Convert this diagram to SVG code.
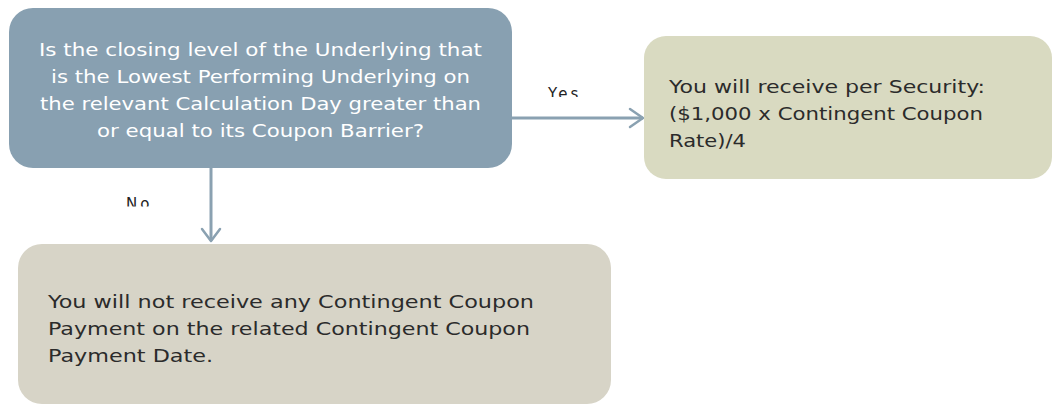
<svg xmlns="http://www.w3.org/2000/svg" width="1062" height="404" viewBox="0 0 1062 404">
<style>
  .q { fill: #88a0b1; }
  .yes { fill: #d9dac1; }
  .no { fill: #d7d4c7; }
  .t { font-family: "DejaVu Sans", Verdana, sans-serif; font-size: 16.8px; }
  .tw { fill: #ffffff; text-anchor: middle; }
  .td { fill: #2b2b2b; }
  .lbl { font-family: "DejaVu Sans", Verdana, sans-serif; font-size: 15px; fill: #222; letter-spacing: 3px; }
  .conn { stroke: #8aa1b1; stroke-width: 3; fill: none; }
  .head { stroke: #8aa1b1; stroke-width: 2.5; fill: none; stroke-linecap: round; stroke-linejoin: round; }
</style>
<defs>
  <clipPath id="clipYes"><rect x="540" y="80" width="60" height="17"/></clipPath>
  <clipPath id="clipNo"><rect x="115" y="190" width="60" height="16.5"/></clipPath>
</defs>
<rect width="1062" height="404" fill="#ffffff"/>
<g id="connectors">
  <line class="conn" x1="512" y1="118" x2="643" y2="118"/>
  <polyline class="head" points="630,109 643,118 630,127"/>
  <line class="conn" x1="211" y1="168" x2="211" y2="241"/>
  <polyline class="head" points="202,229 211,241 220,229"/>
  <text class="lbl" x="548" y="99" clip-path="url(#clipYes)">Yes</text>
  <text class="lbl" x="126" y="209" clip-path="url(#clipNo)">No</text>
</g>
<g id="node-question">
  <rect class="q" x="9" y="8" width="503" height="160" rx="24" ry="24"/>
  <text class="t tw" x="260.5" y="56" textLength="443" lengthAdjust="spacingAndGlyphs">Is the closing level of the Underlying that</text>
  <text class="t tw" x="260.5" y="83" textLength="419" lengthAdjust="spacingAndGlyphs">is the Lowest Performing Underlying on</text>
  <text class="t tw" x="260.5" y="110" textLength="441" lengthAdjust="spacingAndGlyphs">the relevant Calculation Day greater than</text>
  <text class="t tw" x="260.5" y="137" textLength="327" lengthAdjust="spacingAndGlyphs">or equal to its Coupon Barrier?</text>
</g>
<g id="node-yes">
  <rect class="yes" x="644" y="36" width="408" height="143" rx="22" ry="22"/>
  <text class="t td" x="669" y="93" textLength="316" lengthAdjust="spacingAndGlyphs">You will receive per Security:</text>
  <text class="t td" x="669" y="120" textLength="314" lengthAdjust="spacingAndGlyphs">($1,000 x Contingent Coupon</text>
  <text class="t td" x="669" y="147" textLength="77" lengthAdjust="spacingAndGlyphs">Rate)/4</text>
</g>
<g id="node-no">
  <rect class="no" x="18" y="244" width="593" height="160" rx="24" ry="24"/>
  <text class="t td" x="48" y="308" textLength="486" lengthAdjust="spacingAndGlyphs">You will not receive any Contingent Coupon</text>
  <text class="t td" x="48" y="335" textLength="482" lengthAdjust="spacingAndGlyphs">Payment on the related Contingent Coupon</text>
  <text class="t td" x="48" y="362" textLength="165" lengthAdjust="spacingAndGlyphs">Payment Date.</text>
</g>
</svg>
